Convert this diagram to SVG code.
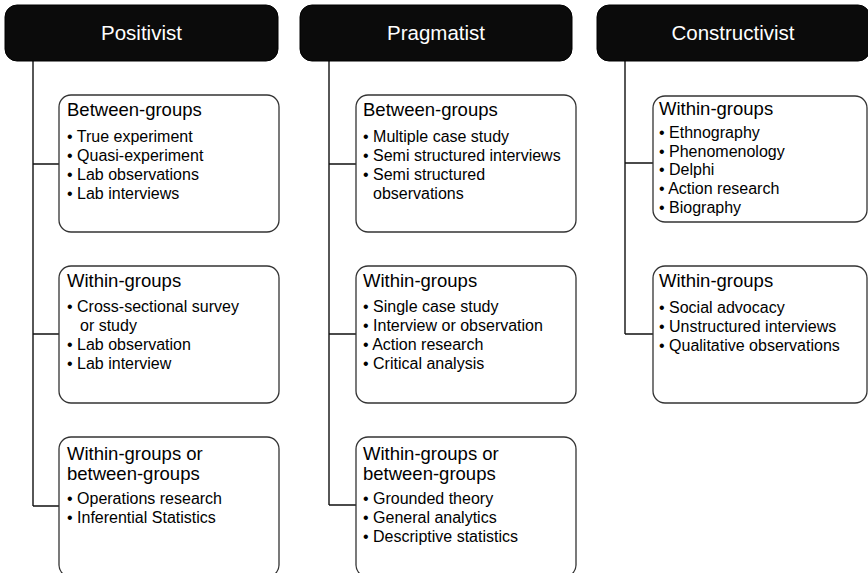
<svg xmlns="http://www.w3.org/2000/svg" width="868" height="573" viewBox="0 0 868 573">
  <style>
    .head rect { fill: #0b0b0b; stroke: #000; stroke-width: 1; }
    .head text { fill: #fff; font-family: "Liberation Sans", Arial, sans-serif; font-size: 20.5px; text-anchor: middle; }
    .box rect { fill: #fff; stroke: #333; stroke-width: 1.3; }
    .box text { fill: #000; font-family: "Liberation Sans", Arial, sans-serif; }
    .sub { font-size: 18.5px; }
    .item { font-size: 16px; }
    #connectors path { fill: none; stroke: #111; stroke-width: 1.4; }
  </style>

  <!-- connectors: spine from each header plus branches into the boxes -->
  <g id="connectors">
    <path d="M33 61 V506 M33 164 H59 M33 334 H59 M33 506 H59"/>
    <path d="M329 61 V505 M329 164 H356 M329 334 H356 M329 505 H356"/>
    <path d="M625 61 V334 M625 163 H653 M625 334 H653"/>
  </g>

  <!-- headers -->
  <g id="positivist" class="head">
    <rect x="5" y="5" width="273" height="56" rx="12"/>
    <text x="141.5" y="40">Positivist</text>
  </g>
  <g id="pragmatist" class="head">
    <rect x="300" y="5" width="272" height="56" rx="12"/>
    <text x="436" y="40">Pragmatist</text>
  </g>
  <g id="constructivist" class="head">
    <rect x="597" y="5" width="273" height="56" rx="12"/>
    <text x="733" y="40">Constructivist</text>
  </g>

  <!-- Positivist column -->
  <g id="pos-between" class="box">
    <rect x="59" y="95" width="220" height="137" rx="12"/>
    <text class="sub" x="67" y="116">Between-groups</text>
    <text class="item" x="67" y="142">• True experiment</text>
    <text class="item" x="67" y="161">• Quasi-experiment</text>
    <text class="item" x="67" y="180">• Lab observations</text>
    <text class="item" x="67" y="199">• Lab interviews</text>
  </g>
  <g id="pos-within" class="box">
    <rect x="59" y="266" width="220" height="137" rx="12"/>
    <text class="sub" x="67" y="287">Within-groups</text>
    <text class="item" x="67" y="312">• Cross-sectional survey</text>
    <text class="item" x="80" y="331">or study</text>
    <text class="item" x="67" y="350">• Lab observation</text>
    <text class="item" x="67" y="369">• Lab interview</text>
  </g>
  <g id="pos-either" class="box">
    <rect x="59" y="437" width="220" height="140" rx="12"/>
    <text class="sub" x="67" y="460">Within-groups or</text>
    <text class="sub" x="67" y="480">between-groups</text>
    <text class="item" x="67" y="504">• Operations research</text>
    <text class="item" x="67" y="523">• Inferential Statistics</text>
  </g>

  <!-- Pragmatist column -->
  <g id="prag-between" class="box">
    <rect x="356" y="95" width="220" height="137" rx="12"/>
    <text class="sub" x="363" y="116">Between-groups</text>
    <text class="item" x="363" y="142">• Multiple case study</text>
    <text class="item" x="363" y="161">• Semi structured interviews</text>
    <text class="item" x="363" y="180">• Semi structured</text>
    <text class="item" x="373" y="199">observations</text>
  </g>
  <g id="prag-within" class="box">
    <rect x="356" y="266" width="220" height="137" rx="12"/>
    <text class="sub" x="363" y="287">Within-groups</text>
    <text class="item" x="363" y="312">• Single case study</text>
    <text class="item" x="363" y="331">• Interview or observation</text>
    <text class="item" x="363" y="350">• Action research</text>
    <text class="item" x="363" y="369">• Critical analysis</text>
  </g>
  <g id="prag-either" class="box">
    <rect x="356" y="437" width="220" height="140" rx="12"/>
    <text class="sub" x="363" y="460">Within-groups or</text>
    <text class="sub" x="363" y="480">between-groups</text>
    <text class="item" x="363" y="504">• Grounded theory</text>
    <text class="item" x="363" y="523">• General analytics</text>
    <text class="item" x="363" y="542">• Descriptive statistics</text>
  </g>

  <!-- Constructivist column -->
  <g id="cons-within-1" class="box">
    <rect x="653" y="96" width="214" height="126" rx="12"/>
    <text class="sub" x="659" y="115">Within-groups</text>
    <text class="item" x="659" y="138">• Ethnography</text>
    <text class="item" x="659" y="157">• Phenomenology</text>
    <text class="item" x="659" y="175">• Delphi</text>
    <text class="item" x="659" y="194">• Action research</text>
    <text class="item" x="659" y="213">• Biography</text>
  </g>
  <g id="cons-within-2" class="box">
    <rect x="653" y="266" width="214" height="137" rx="12"/>
    <text class="sub" x="659" y="287">Within-groups</text>
    <text class="item" x="659" y="313">• Social advocacy</text>
    <text class="item" x="659" y="332">• Unstructured interviews</text>
    <text class="item" x="659" y="351">• Qualitative observations</text>
  </g>
</svg>
